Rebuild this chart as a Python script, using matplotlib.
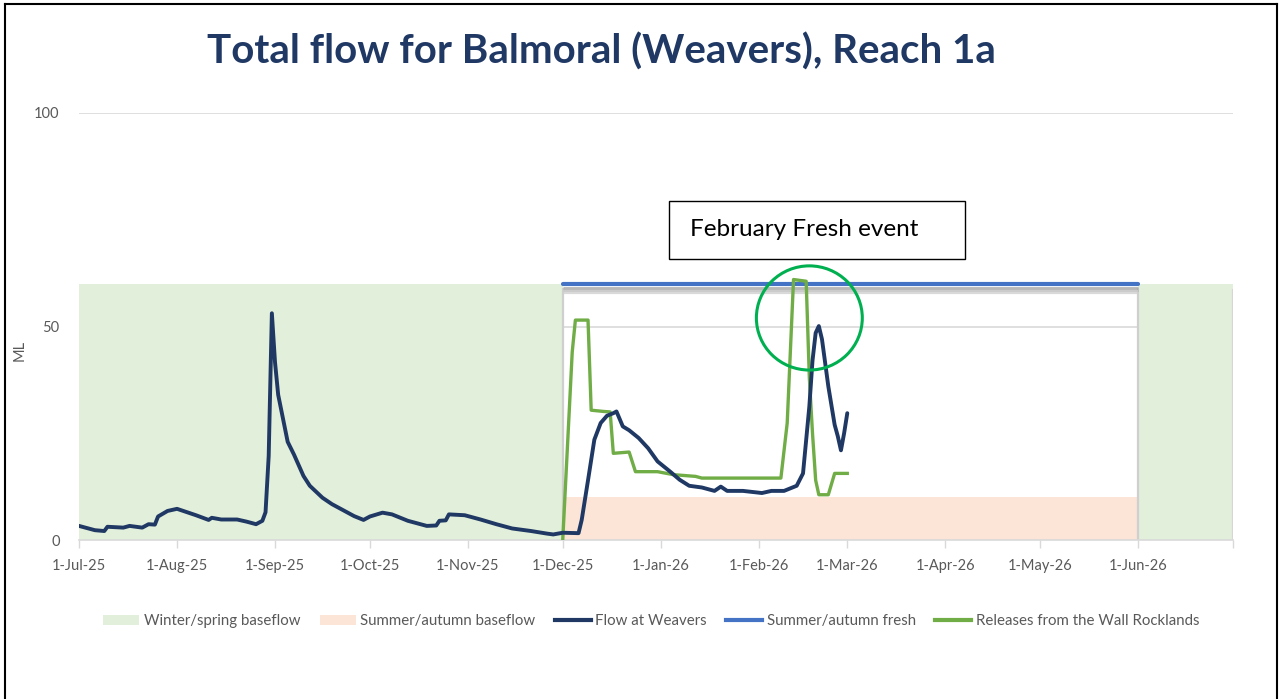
import matplotlib
matplotlib.use("Agg")
import matplotlib.pyplot as plt
import matplotlib.dates as mdates
from matplotlib.patches import Rectangle, Ellipse, Patch
from matplotlib.lines import Line2D
import pandas as pd

plt.rcParams['font.family'] = ['Lato', 'DejaVu Sans']

# Flow at Weavers (ML/day)
flow_dates = ["2025-07-01", "2025-07-06", "2025-07-09", "2025-07-10", "2025-07-15", "2025-07-17",
              "2025-07-21", "2025-07-23", "2025-07-25", "2025-07-26", "2025-07-29", "2025-08-01",
              "2025-08-03", "2025-08-07", "2025-08-11", "2025-08-12", "2025-08-15", "2025-08-20",
              "2025-08-23", "2025-08-26", "2025-08-28", "2025-08-29", "2025-08-30", "2025-08-31",
              "2025-09-01", "2025-09-02", "2025-09-05", "2025-09-07", "2025-09-10", "2025-09-12",
              "2025-09-16", "2025-09-19", "2025-09-23", "2025-09-26", "2025-09-29", "2025-10-01",
              "2025-10-05", "2025-10-08", "2025-10-13", "2025-10-19", "2025-10-22", "2025-10-23",
              "2025-10-25", "2025-10-26", "2025-10-31", "2025-11-05", "2025-11-10", "2025-11-15",
              "2025-11-21", "2025-11-26", "2025-11-28", "2025-12-01", "2025-12-06", "2025-12-07",
              "2025-12-09", "2025-12-11", "2025-12-13", "2025-12-15", "2025-12-17", "2025-12-18",
              "2025-12-20", "2025-12-22", "2025-12-25", "2025-12-28", "2025-12-31", "2026-01-04",
              "2026-01-07", "2026-01-10", "2026-01-14", "2026-01-18", "2026-01-20", "2026-01-22",
              "2026-01-27", "2026-02-02", "2026-02-05", "2026-02-09", "2026-02-13", "2026-02-15",
              "2026-02-17", "2026-02-18", "2026-02-19", "2026-02-20", "2026-02-21", "2026-02-23",
              "2026-02-25", "2026-02-26", "2026-02-27", "2026-02-28", "2026-03-01"]
flow_vals = [3.3, 2.3, 2.1, 3.1, 2.9, 3.3,
             2.9, 3.7, 3.6, 5.5, 6.8, 7.3,
             6.8, 5.8, 4.7, 5.2, 4.8, 4.8,
             4.3, 3.7, 4.5, 6.5, 19.7, 53.1,
             41.6, 34.0, 23.0, 20.0, 15.0, 12.7,
             9.9, 8.4, 6.8, 5.6, 4.7, 5.5,
             6.4, 6.0, 4.5, 3.3, 3.4, 4.5,
             4.6, 6.0, 5.8, 4.8, 3.7, 2.7,
             2.1, 1.5, 1.3, 1.7, 1.6, 4.7,
             14.0, 23.5, 27.4, 29.1, 29.7, 30.1,
             26.6, 25.7, 23.9, 21.5, 18.4, 16.0,
             14.1, 12.7, 12.3, 11.5, 12.5, 11.5,
             11.5, 11.0, 11.5, 11.5, 12.7, 15.6,
             31.3, 42.0, 48.5, 50.1, 47.0, 36.0,
             27.0, 24.3, 21.0, 25.0, 29.7]

# Releases from the Wall Rocklands
release_dates = ["2025-12-01", "2025-12-04", "2025-12-05", "2025-12-09", "2025-12-10", "2025-12-14",
                 "2025-12-16", "2025-12-17", "2025-12-22", "2025-12-24", "2025-12-31", "2026-01-05",
                 "2026-01-12", "2026-01-14", "2026-02-08", "2026-02-10", "2026-02-12", "2026-02-16",
                 "2026-02-17", "2026-02-18", "2026-02-19", "2026-02-20", "2026-02-23", "2026-02-25",
                 "2026-03-01"]
release_vals = [0.0, 44.0, 51.5, 51.5, 30.4, 30.1,
                30.0, 20.3, 20.6, 16.0, 16.0, 15.3,
                14.9, 14.5, 14.5, 27.4, 61.0, 60.6,
                38.0, 25.0, 14.0, 10.6, 10.6, 15.6,
                15.6]

# Seasonal targets
winter_periods = [("2025-07-01", "2025-12-01"), ("2026-06-01", "2026-07-01")]
winter_baseflow = 60
summer_period = ("2025-12-01", "2026-06-01")
summer_baseflow = 10
summer_fresh = 60

tick_months = pd.date_range("2025-07-01", "2026-07-01", freq="MS")

NAVY = "#1F3864"
GREEN = "#70AD47"
BLUE = "#4472C4"
GREY_TXT = "#595959"

fig = plt.figure(figsize=(12.82, 6.99), dpi=100)
ax = fig.add_axes([79 / 1282, 1 - 540 / 699, (1233 - 79) / 1282, (540 - 113) / 699])

for start, end in winter_periods:
    ax.fill_between(pd.to_datetime([start, end]), 0, winter_baseflow, color="#E2EFDA",
                    linewidth=0, zorder=1)
s0, s1 = pd.to_datetime(summer_period)
ax.fill_between([s0, s1], 0, summer_baseflow, color="#FCE4D6", linewidth=0, zorder=1)

# frame / shadow of the summer fresh block
ax.plot([s0, s0], [0, summer_fresh - 1.2], color="#cfcfcf", lw=1.6, zorder=1.5)
ax.plot([s1, s1], [0, summer_fresh - 1.2], color="#cfcfcf", lw=1.6, zorder=1.5)
ax.plot([s0, s1], [summer_fresh - 1.3, summer_fresh - 1.3], color="#a6a6a6", lw=3.5,
        alpha=0.8, zorder=1.5, solid_capstyle="butt")
ax.plot([s0, s1], [summer_fresh - 2.0, summer_fresh - 2.0], color="#d0d0d0", lw=3,
        alpha=0.8, zorder=1.5, solid_capstyle="butt")
end = pd.Timestamp(winter_periods[1][1])
ax.plot([end, end], [0, winter_baseflow - 1.5], color="#d6d6d6", lw=1.6, zorder=1.5)

ax.plot([s0, s1], [summer_fresh, summer_fresh], color=BLUE, lw=3, zorder=3,
        solid_capstyle="round")
ax.plot(pd.to_datetime(release_dates), release_vals, color=GREEN, lw=2.4, zorder=4,
        solid_joinstyle="round")
ax.plot(pd.to_datetime(flow_dates), flow_vals, color=NAVY, lw=2.8, zorder=5,
        solid_joinstyle="round", solid_capstyle="round")

# highlight of the February fresh
ax.add_patch(Ellipse((mdates.date2num(pd.Timestamp("2026-02-17")), 52.0), width=33.5, height=24.4,
                     fill=False, edgecolor="#00B050", lw=2.2, zorder=6))

ax.set_xlim(pd.Timestamp("2025-07-01"), pd.Timestamp("2026-07-01"))
ax.set_ylim(0, 100)
ax.set_yticks([0, 50, 100])
ax.yaxis.grid(True, color="#D9D9D9", lw=1.2, zorder=0.5)
ax.set_axisbelow(True)
ax.set_xticks(tick_months)
ax.set_xticklabels([f"{d.day}-{d.strftime('%b-%y')}" for d in tick_months[:-1]] + [""])
ax.tick_params(axis="x", colors="#D9D9D9", labelcolor=GREY_TXT, labelsize=10.5, length=6,
               width=1, pad=8)
ax.tick_params(axis="y", length=0, labelcolor=GREY_TXT, labelsize=10.5, pad=14)
for side in ("top", "right", "left"):
    ax.spines[side].set_visible(False)
ax.spines["bottom"].set_color("#D9D9D9")
ax.spines["bottom"].set_linewidth(1.2)
ax.set_ylabel("ML", color=GREY_TXT, fontsize=10.5)
ax.yaxis.set_label_coords(-0.045, 0.445)

fig.text(0.469, 1 - 52 / 699, "Total flow for Balmoral (Weavers), Reach 1a", ha="center",
         va="center", fontsize=29, fontweight="bold", color=NAVY)

# annotation box
fig.patches.append(Rectangle((669 / 1282, 1 - 259 / 699), 296 / 1282, 58 / 699,
                             transform=fig.transFigure, fill=True, facecolor="white",
                             edgecolor="black", lw=1.0, zorder=10))
fig.text(690 / 1282, 1 - 229 / 699, "February Fresh event", ha="left", va="center",
         fontsize=17.5, color="black", zorder=11)

handles = [Patch(facecolor="#E2EFDA", edgecolor="none"),
           Patch(facecolor="#FCE4D6", edgecolor="none"),
           Line2D([], [], color=NAVY, lw=3),
           Line2D([], [], color=BLUE, lw=3),
           Line2D([], [], color=GREEN, lw=3)]
labels = ["Winter/spring baseflow", "Summer/autumn baseflow", "Flow at Weavers",
          "Summer/autumn fresh", "Releases from the Wall Rocklands"]
leg = fig.legend(handles, labels, loc="center", bbox_to_anchor=(0.508, 1 - 621 / 699), ncol=5,
                 frameon=False, fontsize=10.8, handlelength=2.4, handleheight=0.7,
                 handletextpad=0.3, columnspacing=1.3, labelcolor=GREY_TXT)

# outer frame (left, top, right)
for xs, ys in (([5 / 1282, 5 / 1282], [0, 1 - 4 / 699]),
               ([5 / 1282, 1277 / 1282], [1 - 4 / 699, 1 - 4 / 699]),
               ([1277 / 1282, 1277 / 1282], [0, 1 - 4 / 699])):
    fig.add_artist(Line2D(xs, ys, transform=fig.transFigure, color="black", lw=1.5))

fig.savefig("out.png", dpi=100)
plt.close(fig)
